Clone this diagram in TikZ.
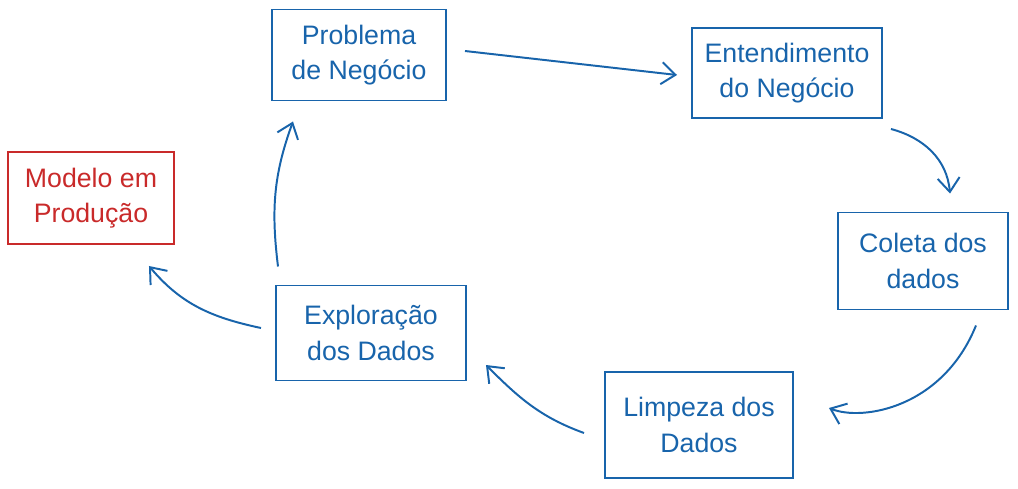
\documentclass[tikz,border=0pt]{standalone}
\usepackage{fontspec}
\setmainfont{Liberation Sans}
\usetikzlibrary{positioning,arrows.meta}
\definecolor{azul}{HTML}{1864AB}
\definecolor{vermelho}{HTML}{C92A2A}

\begin{document}
\begin{tikzpicture}[auto,on grid,>={Straight Barb[length=3.5mm,width=5.5mm]},line width=1.4pt]
	\tikzstyle{etapa}=[rectangle,draw=azul,text=azul,align=center,font=\fontsize{19}{25}\selectfont]
	\tikzstyle{seta}=[->,draw=azul]
	\useasboundingbox (0,0) rectangle (25.45,-12.2);
		\node[etapa, minimum width=4.35cm, minimum height=2.275cm] (prob) at (8.975,-1.375) {Problema\\de Negócio};
		\node[etapa, minimum width=4.75cm, minimum height=2.25cm] (ent) [below right=0.45cm and 10.7cm of prob] {Entendimento\\do Negócio};
		\node[etapa, minimum width=4.25cm, minimum height=2.425cm] (col) [below right=4.7cm and 3.4cm of ent] {Coleta dos\\dados};
		\node[etapa, minimum width=4.7cm, minimum height=2.65cm] (limp) [below left=4.1cm and 5.6cm of col] {Limpeza dos\\Dados};
		\node[etapa, minimum width=4.75cm, minimum height=2.375cm] (expl) [above left=2.3cm and 8.2cm of limp] {Exploração\\dos Dados};
		\node[etapa, draw=vermelho, text=vermelho, minimum width=4.15cm, minimum height=2.3cm] (mod) [above left=3.375cm and 7.0cm of expl] {Modelo em\\Produção};
			\draw[seta] ([xshift=0.45cm,yshift=0.1cm]prob.east) -- ([xshift=-0.35cm,yshift=-0.05cm]ent.west);
			\draw[seta] ([xshift=0.2cm,yshift=-0.25cm]ent.south east) to[out=-15,in=95] ([xshift=0.675cm,yshift=0.45cm]col.north);
			\draw[seta] ([xshift=-0.825cm,yshift=-0.375cm]col.south east) to[out=-112,in=-22,out looseness=1.35,in looseness=0.55] ([xshift=0.875cm,yshift=0.425cm]limp.east);
			\draw[seta] ([xshift=-0.5cm,yshift=-0.2cm]limp.west) to[out=160,in=-45] ([xshift=0.475cm,yshift=-0.8cm]expl.east);
			\draw[seta] ([xshift=-2.325cm,yshift=0.45cm]expl.north) to[out=97,in=-110] ([xshift=-1.65cm,yshift=-0.5cm]prob.south);
			\draw[seta] ([xshift=-0.35cm,yshift=0.125cm]expl.west) to[out=168,in=-50] ([xshift=-0.65cm,yshift=-0.525cm]mod.south east);
\end{tikzpicture}
\end{document}
